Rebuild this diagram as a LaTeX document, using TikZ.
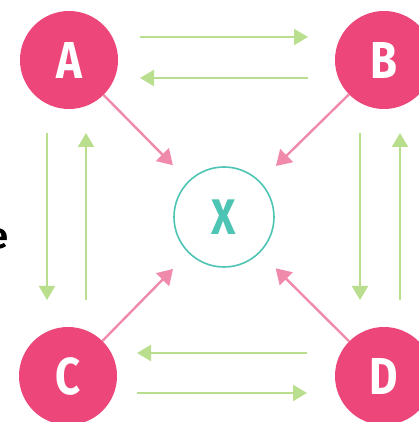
\documentclass[tikz,border=0pt]{standalone}
\usepackage{fontspec}
\setmainfont{Fira Sans}
\newfontfamily\letterfont{Fira Sans}[FakeStretch=0.84]
\usetikzlibrary{arrows.meta,positioning,calc}
\definecolor{nodepink}{RGB}{236,70,122}
\definecolor{linkpink}{RGB}{240,138,170}
\definecolor{flowgreen}{RGB}{184,222,142}
\definecolor{xteal}{RGB}{78,196,180}
\tikzset{
	party/.style = {circle, fill=nodepink, minimum size=98pt, inner sep=0pt, text=white, font=\letterfont\fontsize{52}{52}\selectfont\bfseries},
	target/.style = {circle, draw=xteal, line width=1.6pt, fill=white, minimum size=100pt, inner sep=0pt, text=xteal, font=\letterfont\fontsize{50}{50}\selectfont\bfseries},
	flow/.style = {draw=flowgreen, line width=2pt, -{Triangle[width=16pt,length=14pt]}},
	link/.style = {draw=linkpink, line width=2.4pt, -{Triangle[width=18pt,length=15pt]}, shorten >=22pt}
}

\begin{document}
\begin{tikzpicture}[x=1pt,y=1pt]
\useasboundingbox (0,0) rectangle (418,422);
% partly cut word at the left edge
\node [anchor=base east, inner sep=0pt, font=\fontsize{36}{36}\selectfont\bfseries] (cut) at (9,173) {e};

\node [party] (A) at (69,362) {A};
\node [party] (B) at (384,362) {B};
\node [party] (C) at (68,46) {C};
\node [party] (D) at (384,46) {D};
\node [target] (X) at (224,205) {X};

% green exchanges
\draw [flow] ([shift={(71,23)}]A.center) -- ([shift={(-76,23)}]B.center);
\draw [flow] ([shift={(-76,-18)}]B.center) -- ([shift={(71,-18)}]A.center);
\draw [flow] ([shift={(-77,23)}]D.center) -- ([shift={(69,23)}]C.center);
\draw [flow] ([shift={(69,-17)}]C.center) -- ([shift={(-77,-17)}]D.center);
\draw [flow] ([shift={(-22,-73)}]A.center) -- ([shift={(-21,76)}]C.center);
\draw [flow] ([shift={(18,76)}]C.center) -- ([shift={(17,-73)}]A.center);
\draw [flow] ([shift={(-24,-73)}]B.center) -- ([shift={(-24,76)}]D.center);
\draw [flow] ([shift={(16,76)}]D.center) -- ([shift={(16,-73)}]B.center);

% pink links to the centre
\draw [link] (A) -- (X);
\draw [link] (B) -- (X);
\draw [link] (C) -- (X);
\draw [link] (D) -- (X);
\end{tikzpicture}
\end{document}
